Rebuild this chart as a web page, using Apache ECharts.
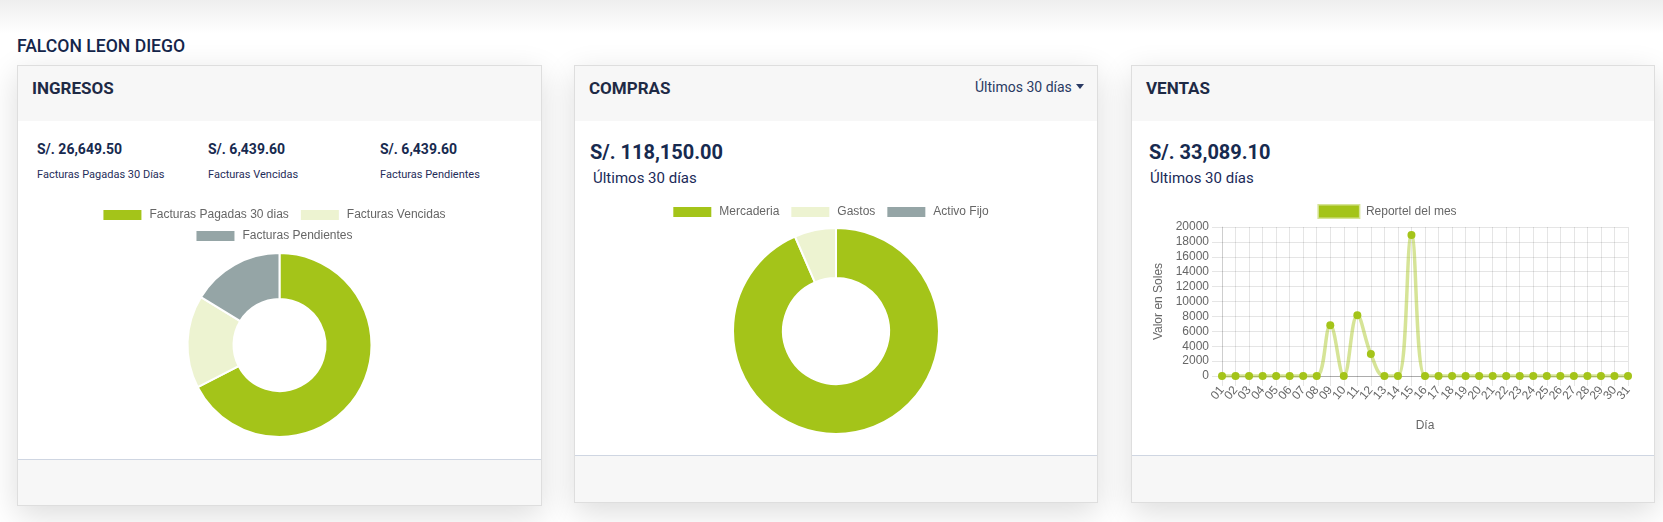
<!DOCTYPE html>
<html>
<head>
<meta charset="utf-8">
<title>Panel</title>
<script src="https://cdn.jsdelivr.net/npm/echarts@6/dist/echarts.min.js"></script>
<style>
  html, body { margin: 0; padding: 0; width: 1663px; height: 522px; overflow: hidden; background: #fff; font-family: Roboto, sans-serif; }
  .topshade { position: absolute; left: 0; top: 0; width: 1663px; height: 34px; background: linear-gradient(#eeeeee, #ffffff); }
  .txt { position: absolute; line-height: 20px; white-space: nowrap; }
  .owner { left: 17px; top: 36px; font-size: 17.6px; font-weight: 500; color: #15264b; }
  .card { position: absolute; top: 65px; box-sizing: border-box; border: 1px solid #dedede; background: #fff; box-shadow: 0 9px 30px rgba(0, 0, 0, 0.14); }
  .card .head { position: absolute; left: 0; top: 0; right: 0; height: 55px; background: #f7f7f7; }
  .card .foot { position: absolute; left: 0; right: 0; bottom: 0; height: 46px; background: #f7f7f7; border-top: 1px solid #cfd6e2; }
  .title { font-size: 17px; font-weight: 700; color: #1e2a45; }
  .amount-sm { font-size: 14px; font-weight: 700; color: #172a4f; }
  .label-sm { font-size: 11px; color: #1f2d5a; }
  .amount { font-size: 20px; font-weight: 700; color: #172a4f; }
  .sub { font-size: 15px; font-weight: 400; color: #1a2a58; }
  .range { font-size: 14px; color: #2a3a63; }
  .caret { display: inline-block; width: 0; height: 0; margin-left: 4px; vertical-align: 3px; border-left: 4px solid transparent; border-right: 4px solid transparent; border-top: 5px solid #2a3a63; }
  .chart { position: absolute; top: 190px; height: 265px; }
</style>
</head>
<body>
<div class="topshade"></div>
<div class="txt owner">FALCON LEON DIEGO</div>

<div class="card" style="left:17px; width:525px; height:441px;"><div class="head"></div><div class="foot" style="height:45px;"></div></div>
<div class="card" style="left:574px; width:524px; height:438px;"><div class="head"></div><div class="foot"></div></div>
<div class="card" style="left:1131px; width:524px; height:438px;"><div class="head"></div><div class="foot"></div></div>

<div class="txt title" style="left:32px; top:78px;">INGRESOS</div>
<div class="txt title" style="left:589px; top:78px;">COMPRAS</div>
<div class="txt title" style="left:1146px; top:78px;">VENTAS</div>
<div class="txt range" style="left:975px; top:77px;">Últimos 30 días<span class="caret"></span></div>

<div class="txt amount-sm" style="left:37px; top:139px;">S/. 26,649.50</div>
<div class="txt amount-sm" style="left:208px; top:139px;">S/. 6,439.60</div>
<div class="txt amount-sm" style="left:380px; top:139px;">S/. 6,439.60</div>
<div class="txt label-sm" style="left:37px; top:165px;">Facturas Pagadas 30 Días</div>
<div class="txt label-sm" style="left:208px; top:165px;">Facturas Vencidas</div>
<div class="txt label-sm" style="left:380px; top:165px;">Facturas Pendientes</div>

<div class="txt amount" style="left:590px; top:142px;">S/. 118,150.00</div>
<div class="txt sub" style="left:593px; top:168px;">Últimos 30 días</div>
<div class="txt amount" style="left:1149px; top:142px;">S/. 33,089.10</div>
<div class="txt sub" style="left:1150px; top:168px;">Últimos 30 días</div>

<!-- los contenedores van 6px a la izquierda para que la leyenda quede como en chart.js -->
<div id="ingresos" class="chart" style="left:11px; width:525px;"></div>
<div id="compras" class="chart" style="left:568px; width:524px;"></div>
<div id="ventas" class="chart" style="left:1125px; width:524px;"></div>

<script>
// datos del panel
const ingresosLabels = ['Facturas Pagadas 30 dias', 'Facturas Vencidas', 'Facturas Pendientes']
const ingresosValues = [26649.50, 6439.60, 6439.60]

const comprasLabels = ['Mercaderia', 'Gastos', 'Activo Fijo']
const comprasValues = [110450, 7700, 0]

const dias = ['01', '02', '03', '04', '05', '06', '07', '08', '09', '10', '11', '12', '13', '14', '15', '16',
  '17', '18', '19', '20', '21', '22', '23', '24', '25', '26', '27', '28', '29', '30', '31']
const ventasValues = [0, 0, 0, 0, 0, 0, 0, 0, 6800, 0, 8150, 2950, 0, 0, 18930, 0,
  0, 0, 0, 0, 0, 0, 0, 0, 0, 0, 0, 0, 0, 0, 0]

const colores = ['#a4c419', '#edf3d1', '#95a5a6']
const fuente = 'Arial, "Liberation Sans", Helvetica, sans-serif'

// leyenda estilo chart.js (caja 40x12)
function legendBase(extra) {
  return Object.assign({
    left: 'center',
    icon: 'rect',
    itemWidth: 40,
    itemHeight: 12,
    itemGap: 10,
    selectedMode: false,
    textStyle: { color: '#666', fontSize: 12, fontFamily: fuente, padding: [0, 0, 0, 2] }
  }, extra)
}

function pieData(labels, values) {
  let out = []
  for (let i = 0; i < labels.length; i++) {
    out.push({ name: labels[i], value: values[i], itemStyle: { color: colores[i] } })
  }
  return out
}

function pieSeries(labels, values, center, radius) {
  return {
    type: 'pie',
    center: center,
    radius: radius,
    startAngle: 90,
    clockwise: true,
    avoidLabelOverlap: false,
    label: { show: false },
    labelLine: { show: false },
    emphasis: { disabled: true },
    itemStyle: { borderColor: '#fff', borderWidth: 2 },
    data: pieData(labels, values)
  }
}

let chartIngresos = echarts.init(document.getElementById('ingresos'))
chartIngresos.setOption({
  animation: false,
  color: colores,
  legend: [
    legendBase({ top: 13, data: ingresosLabels.slice(0, 2) }),
    legendBase({ top: 34, data: ingresosLabels.slice(2) })
  ],
  series: [pieSeries(ingresosLabels, ingresosValues, [268.5, 155], [46, 92])]
})

let chartCompras = echarts.init(document.getElementById('compras'))
chartCompras.setOption({
  animation: false,
  color: colores,
  legend: legendBase({ top: 10, data: comprasLabels }),
  series: [pieSeries(comprasLabels, comprasValues, [268, 141], [53, 103])]
})

let gridColor = 'rgba(0,0,0,0.1)'
let chartVentas = echarts.init(document.getElementById('ventas'))
chartVentas.setOption({
  animation: false,
  legend: legendBase({
    top: 9,
    data: ['Reportel del mes'],
    itemStyle: { color: '#a4c419', borderColor: 'rgba(164,196,25,0.45)', borderWidth: 3 }
  }),
  grid: { left: 97, right: 21, top: 37, bottom: 79, containLabel: false },
  xAxis: {
    type: 'category',
    data: dias,
    boundaryGap: false,
    name: 'Día',
    nameLocation: 'middle',
    nameGap: 44,
    nameTextStyle: { color: '#666', fontSize: 12, fontFamily: fuente },
    axisLine: { lineStyle: { color: 'rgba(0,0,0,0.25)' } },
    axisTick: { show: true, length: 10, interval: 0, lineStyle: { color: gridColor } },
    axisLabel: { interval: 0, rotate: 50, margin: 12, color: '#666', fontSize: 12, fontFamily: fuente },
    splitLine: { show: true, interval: 0, lineStyle: { color: gridColor } }
  },
  yAxis: {
    type: 'value',
    min: 0,
    max: 20000,
    interval: 2000,
    name: 'Valor en Soles',
    nameLocation: 'middle',
    nameRotate: 90,
    nameGap: 44,
    nameTextStyle: { color: '#666', fontSize: 12, fontFamily: fuente },
    axisLine: { show: true, lineStyle: { color: gridColor } },
    axisTick: { show: true, length: 10, lineStyle: { color: gridColor } },
    axisLabel: { margin: 13, color: '#666', fontSize: 12, fontFamily: fuente, formatter: v => String(v) },
    splitLine: { show: true, lineStyle: { color: gridColor } }
  },
  series: [{
    name: 'Reportel del mes',
    type: 'line',
    smooth: 0.4,
    data: ventasValues,
    symbol: 'circle',
    symbolSize: 8,
    itemStyle: { color: '#a4c419' },
    lineStyle: { color: 'rgba(164,196,25,0.45)', width: 3.5 },
    emphasis: { disabled: true }
  }]
})
</script>
</body>
</html>
